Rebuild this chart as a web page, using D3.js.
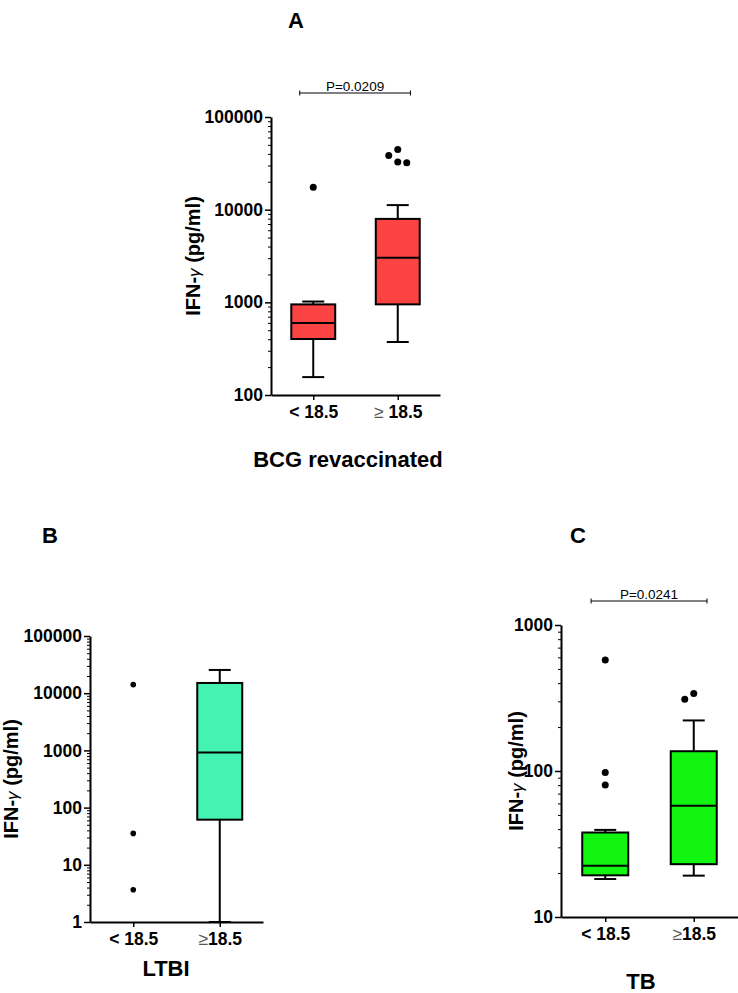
<!DOCTYPE html>
<html>
<head>
<meta charset="utf-8">
<script src="https://cdn.jsdelivr.net/npm/d3@7"></script>
<style>
  body { margin: 0; background: #fff; }
  text { font-family: "Liberation Sans", Arial, sans-serif; }
</style>
</head>
<body>
<svg id="chart" width="738" height="993"></svg>
<script>

// Data (IFN-gamma, pg/ml)

var groupsA = ["< 18.5", "≥ 18.5"],
    groupsB = ["< 18.5", "≥18.5"],
    groupsC = ["< 18.5", "≥18.5"];

// box stats: [min, q1, median, q3, max]
var boxA = [[156, 402, 598, 950, 1020], [373, 951, 3030, 7950, 11200]],
    boxB = [null, [1, 61.5, 922, 15100, 25500]],
    boxC = [[18.2, 19.3, 22.4, 37.9, 39.5], [19.2, 23.0, 57.7, 136.6, 222]];

var outliersA = [[17500], [44700, 38500, 32600, 32100]],
    outliersB = [[14100, 35.4, 3.67], []],
    outliersC = [[575, 97.5, 80.3], [340, 310]];

var ticksA = [100, 1000, 10000, 100000],
    ticksB = [1, 10, 100, 1000, 10000, 100000],
    ticksC = [10, 100, 1000];

var pA = "P=0.0209", pC = "P=0.0241";

var svg = d3.select("#chart");

var panels = [
  { letter: "A", title: "BCG revaccinated", groups: groupsA, box: boxA, out: outliersA, ticks: ticksA,
    p: pA, fill: "#fb4343", left: 271, right: 440, top: 117, bottom: 395, r: 3.5,
    letterXY: [296, 28], titleXY: [348, 467], ylabX: 200 },
  { letter: "B", title: "LTBI", groups: groupsB, box: boxB, out: outliersB, ticks: ticksB,
    p: null, fill: "#44f2b2", left: 90, right: 263, top: 636, bottom: 922, r: 2.8,
    letterXY: [50, 543], titleXY: [166, 976], ylabX: 18 },
  { letter: "C", title: "TB", groups: groupsC, box: boxC, out: outliersC, ticks: ticksC,
    p: pC, fill: "#11f511", left: 561, right: 738, top: 625, bottom: 917, r: 3.5,
    letterXY: [578, 543], titleXY: [641, 989], ylabX: 523 }
];

function drawPanel(p) {
  var g = svg.append("g");

  var x = d3.scalePoint().domain(p.groups).range([p.left, p.right]).padding(0.5);
  var y = d3.scaleLog().domain([p.ticks[0], p.ticks[p.ticks.length - 1]]).range([p.bottom, p.top]);
  var bw = x.step() * 0.52,
      capW = 22;

  // boxes and whiskers
  p.groups.forEach(function(grp, i) {
    var s = p.box[i];
    if (!s) return;
    var cx = x(grp);
    var b = g.append("g").attr("stroke", "#000").attr("stroke-width", 2);
    b.append("line").attr("x1", cx).attr("x2", cx).attr("y1", y(s[0])).attr("y2", y(s[4]));
    b.selectAll(".cap").data([s[0], s[4]]).enter().append("line")
      .attr("x1", cx - capW / 2).attr("x2", cx + capW / 2)
      .attr("y1", function(d) { return y(d); }).attr("y2", function(d) { return y(d); });
    b.append("rect")
      .attr("x", cx - bw / 2).attr("width", bw)
      .attr("y", y(s[3])).attr("height", y(s[1]) - y(s[3]))
      .attr("fill", p.fill);
    b.append("line").attr("x1", cx - bw / 2).attr("x2", cx + bw / 2)
      .attr("y1", y(s[2])).attr("y2", y(s[2]));
  });

  // outliers, dodged sideways when they touch
  p.groups.forEach(function(grp, i) {
    var d = p.r * 2 + 2, placed = [];
    p.out[i].forEach(function(v) {
      var yy = y(v), offs = [0, -d, d, -2 * d, 2 * d], off = 0;
      for (var k = 0; k < offs.length; k++) {
        var ok = placed.every(function(q) {
          return Math.hypot(q[0] - offs[k], q[1] - yy) >= d;
        });
        if (ok) { off = offs[k]; break; }
      }
      placed.push([off, yy]);
      g.append("circle").attr("cx", x(grp) + off).attr("cy", yy).attr("r", p.r).attr("fill", "#000");
    });
  });

  // y axis: minor then major ticks
  var minor = [];
  p.ticks.slice(0, -1).forEach(function(t) {
    for (var k = 2; k < 10; k++) minor.push(t * k);
  });

  var yMinor = g.append("g").attr("transform", "translate(" + p.left + ",0)")
    .call(d3.axisLeft(y).tickValues(minor).tickSize(3).tickSizeOuter(0).tickFormat(""));
  yMinor.select(".domain").remove();
  yMinor.selectAll(".tick line").attr("stroke-width", 1);

  var yAxis = g.append("g").attr("transform", "translate(" + p.left + ",0)")
    .call(d3.axisLeft(y).tickValues(p.ticks).tickSize(6).tickSizeOuter(0).tickPadding(2).tickFormat(d3.format("d")));
  yAxis.select(".domain").attr("stroke-width", 2);
  yAxis.selectAll(".tick line").attr("stroke-width", 1.5);
  yAxis.selectAll(".tick text")
    .attr("font-size", 17.5).attr("font-weight", "bold").attr("fill", "#000")
    .attr("font-family", "Liberation Sans, Arial, sans-serif");

  // x axis
  var xAxis = g.append("g").attr("transform", "translate(0," + p.bottom + ")")
    .call(d3.axisBottom(x).tickSize(5).tickSizeOuter(0).tickPadding(5).tickFormat(""));
  xAxis.select(".domain").attr("stroke-width", 2);
  xAxis.selectAll(".tick line").attr("stroke-width", 1.5);

  var xl = xAxis.selectAll(".tick").append("text")
    .attr("y", 23).attr("text-anchor", "middle").attr("font-size", 17.5).attr("fill", "#000");
  xl.each(function(d) {
    var t = d3.select(this);
    if (d.charAt(0) === "≥") {
      t.append("tspan").attr("font-weight", "normal").attr("fill", "#555").text("≥");
      t.append("tspan").attr("font-weight", "bold").text(d.slice(1));
    } else {
      t.append("tspan").attr("font-weight", "bold").text(d);
    }
  });

  // y label
  var yl = g.append("text")
    .attr("transform", "translate(" + p.ylabX + "," + ((p.top + p.bottom) / 2) + ") rotate(-90)")
    .attr("text-anchor", "middle").attr("font-size", 20).attr("font-weight", "bold");
  yl.append("tspan").text("IFN-");
  yl.append("tspan").attr("font-weight", "normal").attr("font-style", "italic").attr("font-size", 17).text("γ");
  yl.append("tspan").text(" (pg/ml)");

  // p value bracket
  if (p.p) {
    var x0 = x(p.groups[0]) - x.step() * 0.16,
        x1 = x(p.groups[1]) + x.step() * 0.15,
        by = p.top - 24;
    var br = g.append("g").attr("stroke", "#000").attr("stroke-width", 1);
    br.append("line").attr("x1", x0).attr("x2", x1).attr("y1", by).attr("y2", by);
    br.append("line").attr("x1", x0).attr("x2", x0).attr("y1", by - 2.5).attr("y2", by + 2.5);
    br.append("line").attr("x1", x1).attr("x2", x1).attr("y1", by - 2.5).attr("y2", by + 2.5);
    g.append("text").attr("x", (x0 + x1) / 2).attr("y", by - 2.5)
      .attr("text-anchor", "middle").attr("font-size", 13.5).text(p.p);
  }

  // letters and group titles
  g.append("text").attr("x", p.letterXY[0]).attr("y", p.letterXY[1])
    .attr("text-anchor", "middle").attr("font-size", 22).attr("font-weight", "bold").text(p.letter);
  g.append("text").attr("x", p.titleXY[0]).attr("y", p.titleXY[1])
    .attr("text-anchor", "middle").attr("font-size", 22).attr("font-weight", "bold").text(p.title);
}

panels.forEach(drawPanel);

</script>
</body>
</html>
